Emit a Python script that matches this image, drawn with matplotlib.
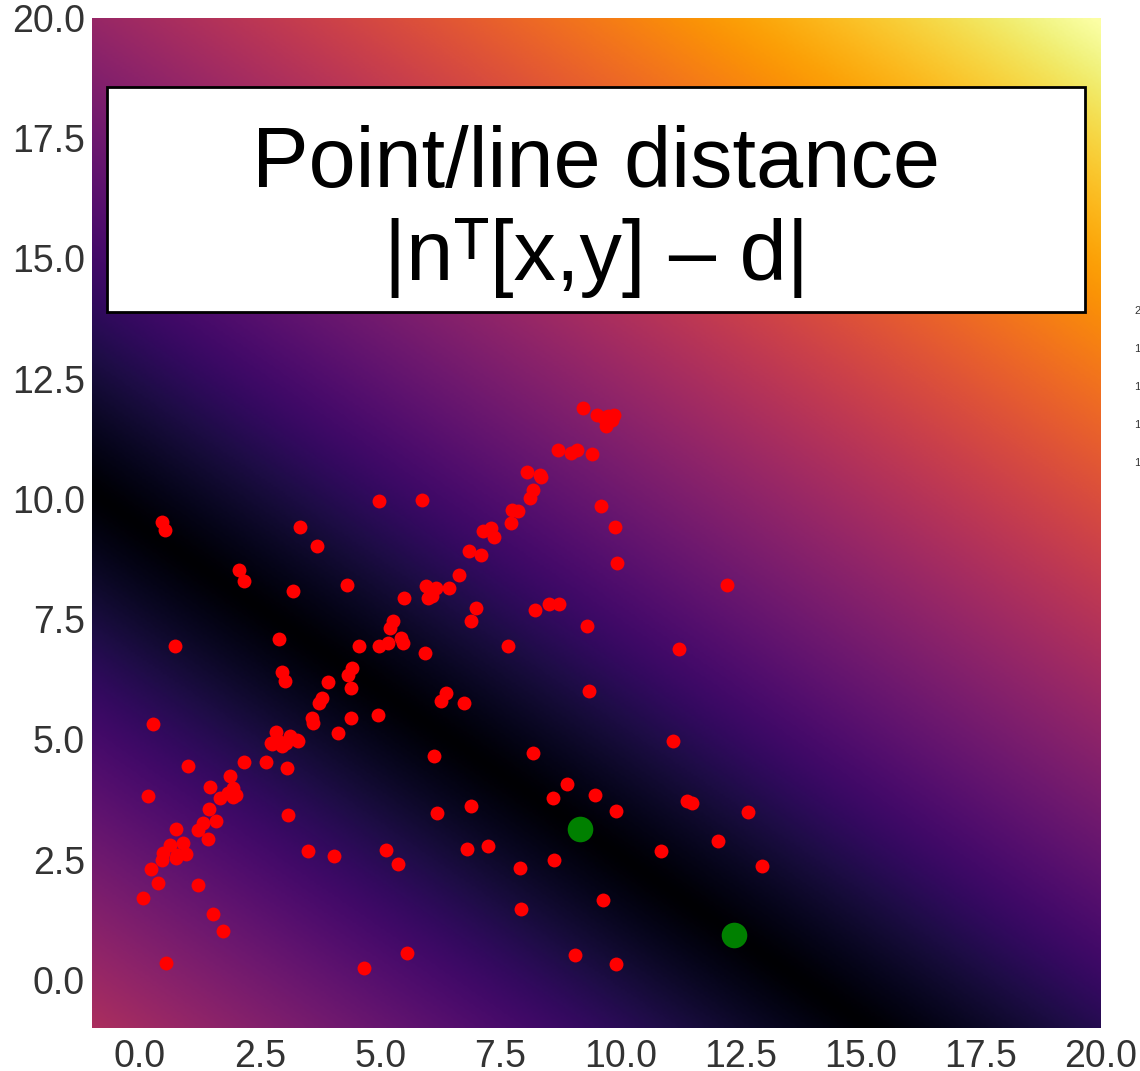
import numpy as np
import matplotlib
matplotlib.use("Agg")
import matplotlib.pyplot as plt
from matplotlib.patches import Rectangle

plt.rcParams['font.family'] = ['Liberation Sans', 'DejaVu Sans']

# red sample points
pts_x = [0.06, 0.17, 0.23, 0.27, 0.37, 0.46, 0.48, 0.46, 0.52, 0.54,
         0.62, 0.73, 0.75, 0.75, 0.89, 0.96, 1.00, 1.21, 1.21, 1.31,
         1.42, 1.46, 1.44, 1.52, 1.58, 1.66, 1.73, 1.83, 1.87, 1.94,
         2.00, 2.06, 2.16, 2.16, 2.62, 2.73, 2.83, 2.89, 2.91, 2.96,
         3.02, 3.04, 3.08, 3.06, 3.12, 3.18, 3.27, 3.33, 3.50, 3.58,
         3.60, 3.68, 3.73, 3.79, 3.91, 4.04, 4.12, 4.31, 4.33, 4.39,
         4.41, 4.39, 4.56, 4.66, 4.95, 4.97, 4.97, 5.12, 5.16, 5.20,
         5.27, 5.37, 5.43, 5.47, 5.49, 5.56, 5.87, 5.93, 5.95, 5.99,
         6.04, 6.08, 6.12, 6.16, 6.18, 6.26, 6.37, 6.43, 6.64, 6.74,
         6.81, 6.85, 6.89, 6.89, 6.99, 7.10, 7.14, 7.24, 7.30, 7.37,
         7.66, 7.72, 7.74, 7.87, 7.91, 7.93, 8.05, 8.12, 8.18, 8.18,
         8.22, 8.33, 8.35, 8.51, 8.60, 8.62, 8.70, 8.72, 8.89, 8.97,
         9.05, 9.09, 9.22, 9.30, 9.34, 9.41, 9.47, 9.51, 9.60, 9.64,
         9.66, 9.70, 9.74, 9.82, 9.86, 9.89, 9.91, 9.93, 9.91, 10.84,
         11.09, 11.22, 11.39, 11.49, 12.03, 12.22, 12.65, 12.94,
         2.75, 2.96, 3.29, 0.77, 1.94]
pts_y = [1.70, 3.83, 2.31, 5.32, 2.02, 2.49, 2.64, 9.52, 9.36, 0.35,
         2.81, 6.94, 3.14, 2.54, 2.85, 2.62, 4.45, 1.98, 3.12, 3.26,
         2.93, 4.01, 3.56, 1.37, 3.31, 3.78, 1.02, 3.89, 4.24, 3.99,
         3.85, 8.52, 8.30, 4.53, 4.53, 4.93, 5.16, 7.09, 4.95, 6.40,
         6.22, 4.93, 3.43, 4.41, 5.07, 8.09, 4.99, 9.42, 2.68, 5.45,
         5.34, 9.02, 5.76, 5.86, 6.20, 2.58, 5.14, 8.21, 6.34, 6.07,
         6.49, 5.45, 6.94, 0.25, 5.51, 9.96, 6.94, 2.70, 7.01, 7.32,
         7.46, 2.41, 7.11, 7.01, 7.94, 0.56, 9.98, 6.80, 8.19, 7.94,
         8.11, 7.98, 4.66, 8.15, 3.47, 5.80, 5.97, 8.15, 8.42, 5.76,
         2.72, 8.92, 7.46, 3.62, 7.73, 8.84, 9.33, 2.79, 9.40, 9.21,
         6.94, 9.50, 9.77, 9.75, 2.33, 1.48, 10.56, 10.02, 10.19, 4.72,
         7.69, 10.50, 10.46, 7.82, 3.78, 2.49, 11.02, 7.82, 4.07, 10.96,
         0.52, 11.02, 11.89, 7.36, 6.01, 10.94, 3.85, 11.75, 9.85, 1.66,
         11.68, 11.52, 11.73, 11.64, 11.75, 9.42, 3.51, 8.67, 0.33, 2.68,
         4.97, 6.88, 3.72, 3.68, 2.89, 8.21, 3.49, 2.37,
         4.90, 4.87, 4.96, 2.60, 3.80]

# the two green points that define the line
line_x = [9.16, 12.36]
line_y = [3.14, 0.94]

tick_vals = [0.0, 2.5, 5.0, 7.5, 10.0, 12.5, 15.0, 17.5, 20.0]
# only the first character of these labels shows at the right edge
cbar_labels = ["2", "1", "1", "1", "1"]

# line normal and offset from the two green points
dx = line_x[1] - line_x[0]
dy = line_y[1] - line_y[0]
n = np.array([-dy, dx]) / np.hypot(dx, dy)
d = n[0] * line_x[0] + n[1] * line_y[0]

grid = np.linspace(-1, 20, 500)
X, Y = np.meshgrid(grid, grid)
Z = np.abs(n[0] * X + n[1] * Y - d)

fig = plt.figure(figsize=(11.4, 10.71), dpi=100)
ax = fig.add_axes([92 / 1140, 1 - 1028 / 1071, 1009 / 1140, 1010 / 1071])

ax.imshow(Z, origin='lower', extent=(-1, 20, -1, 20), cmap='inferno',
          vmin=0, vmax=20, aspect='auto', interpolation='bilinear')
ax.scatter(pts_x, pts_y, s=100, color='red', zorder=3, linewidths=0)
ax.scatter(line_x, line_y, s=340, color='green', zorder=4, linewidths=0)

ax.set_xlim(-1, 20)
ax.set_ylim(-1, 20)
ax.set_xticks(tick_vals)
ax.set_yticks(tick_vals)
ax.set_xticklabels([f"{v:.1f}" for v in tick_vals])
ax.set_yticklabels([f"{v:.1f}" for v in tick_vals])
ax.tick_params(length=0, labelsize=27, colors='#333333')
ax.tick_params(axis='x', pad=8)
ax.tick_params(axis='y', pad=5)
for s in ax.spines.values():
    s.set_visible(False)

# title box
ax.add_patch(Rectangle((-0.69, 13.89), 20.36, 4.68, facecolor='white',
                       edgecolor='black', linewidth=2, zorder=5))
ax.text(9.49, 15.98, "Point/line distance\n|n\u1d40[x,y] \u2013 d|",
        ha='center', va='center', fontsize=61, color='black', zorder=6,
        linespacing=1.2)

# colorbar labels cut off at the right edge
for i, lab in enumerate(cbar_labels):
    fig.text(1134 / 1140, 1 - (311 + 38 * i) / 1071, lab, fontsize=8,
             color='#333333', va='center', ha='left')

fig.savefig("out.png", dpi=100)
